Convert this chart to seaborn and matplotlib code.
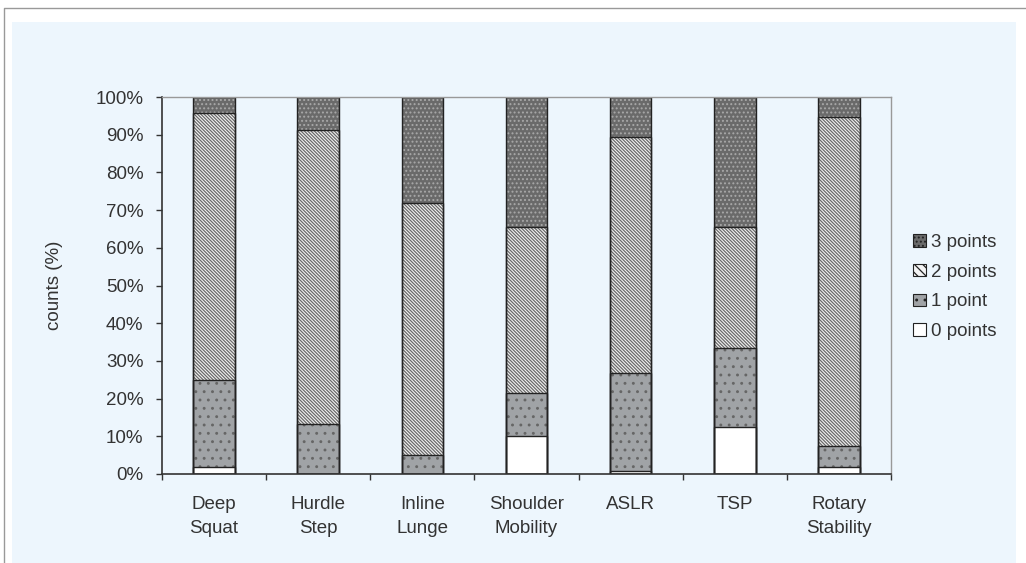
import matplotlib
matplotlib.use("Agg")
import matplotlib.pyplot as plt
import seaborn as sns
from matplotlib.patches import Rectangle, Patch
from matplotlib.lines import Line2D
from matplotlib.ticker import PercentFormatter, MultipleLocator, FixedLocator

# share of counts (%) per FMS test
tests = ["Deep\nSquat", "Hurdle\nStep", "Inline\nLunge", "Shoulder\nMobility",
         "ASLR", "TSP", "Rotary\nStability"]
points0 = [1.9, 0.0, 0.0, 10.1, 0.9, 12.4, 1.8]
points1 = [23.1, 13.3, 5.0, 11.5, 25.8, 20.9, 5.5]
points2 = [70.7, 77.9, 66.8, 44.0, 62.6, 32.3, 87.3]
points3 = [4.3, 8.8, 28.2, 34.4, 10.7, 34.4, 5.4]
labels = ["0 points", "1 point", "2 points", "3 points"]

# cumulative tops, drawn tallest first so lower segments sit on top
c0 = points0
c1 = [a + b for a, b in zip(c0, points1)]
c2 = [a + b for a, b in zip(c1, points2)]
c3 = [a + b for a, b in zip(c2, points3)]

# (top, face, hatch, hatch colour)
layers = [
    (c3, "#6a6a6a", "....", "#a8a8a8"),
    (c2, "#f4f4f4", "\\" * 10, "#6a6a6a"),
    (c1, "#a0a3a6", "..", "#666666"),
    (c0, "#ffffff", "", "#ffffff"),
]

bg = "#edf6fd"
txt = "#333333"
plt.rcParams["font.family"] = ["Liberation Sans", "DejaVu Sans"]
plt.rcParams["hatch.linewidth"] = 0.9

fig = plt.figure(figsize=(10.26, 5.63), dpi=100, facecolor="white")
W, H = 1026, 563
fig.patches.append(Rectangle((12 / W, 0), (1016 - 12) / W, (H - 22) / H,
                             transform=fig.transFigure, facecolor=bg,
                             edgecolor="none", zorder=-10))
fig.lines.append(Line2D([4 / W, 4 / W, 1.0], [0, 1 - 8 / H, 1 - 8 / H],
                        transform=fig.transFigure, color="#999999", lw=1))

ax = fig.add_axes([162 / W, 1 - 474 / H, 729 / W, 377 / H])
ax.set_facecolor(bg)

for top, face, hatch, hcol in layers:
    n = len(ax.patches)
    sns.barplot(x=tests, y=top, color=face, saturation=1, width=0.4,
                edgecolor=hcol, linewidth=0, ax=ax)
    for p in ax.patches[n:]:
        p.set_hatch(hatch)

# outlines of each segment
for top, face, hatch, hcol in layers:
    sns.barplot(x=tests, y=top, color="#222222", fill=False, width=0.4,
                linewidth=1.0, ax=ax)

ax.set_xlim(-0.5, len(tests) - 0.5)
ax.set_ylim(0, 100)
ax.yaxis.set_major_locator(MultipleLocator(10))
ax.yaxis.set_major_formatter(PercentFormatter(decimals=0))
ax.xaxis.set_minor_locator(FixedLocator([i - 0.5 for i in range(len(tests) + 1)]))
ax.tick_params(axis="x", which="major", length=0, pad=16, labelsize=13.5, labelcolor=txt)
ax.tick_params(axis="x", which="minor", length=4.3, width=1, color="#333333", direction="out")
ax.tick_params(axis="y", length=4.3, width=1, color="#333333", pad=9, labelsize=13.5,
               labelcolor=txt)
for t in ax.get_xticklabels():
    t.set_linespacing(1.55)

for s in ["left", "bottom"]:
    ax.spines[s].set_color("#333333")
    ax.spines[s].set_linewidth(1.2)
for s in ["top", "right"]:
    ax.spines[s].set_color("#999999")
    ax.spines[s].set_linewidth(1.0)

ax.set_xlabel("")
ax.set_ylabel("counts (%)", fontsize=13.5, color=txt)
ax.yaxis.set_label_coords(-0.136, 0.5)

handles = [Patch(facecolor=face, hatch=hatch[:4], edgecolor="#222222", linewidth=0.8)
           for top, face, hatch, hcol in layers]
fig.legend(handles=handles, labels=labels[::-1], loc="center left",
           bbox_to_anchor=(904 / W, 1 - 287 / H), frameon=False, fontsize=13.5,
           handlelength=0.65, handleheight=0.65, handletextpad=0.3,
           labelspacing=0.68, labelcolor=txt, borderpad=0)

fig.savefig("out.png", dpi=100, facecolor="white")
